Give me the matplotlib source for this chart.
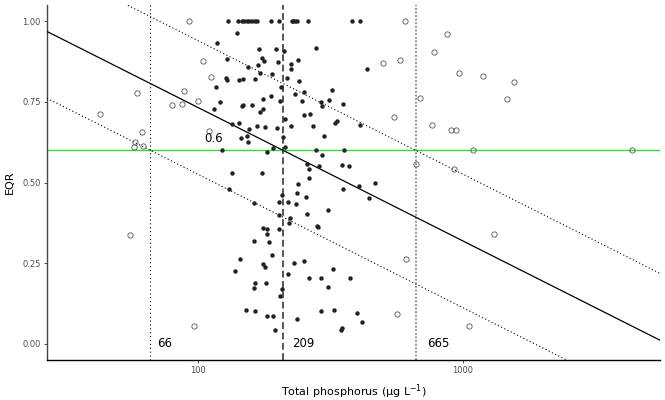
import numpy as np
import matplotlib
matplotlib.use("Agg")
import matplotlib.pyplot as plt

# sites inside the calibration set (filled) - total phosphorus (ug/L) and EQR
tp_filled = [129.8, 141.6, 146.6, 149.6, 153.1, 156.2, 160.4, 164.6, 167.5, 189.2,
             201.8, 225.9, 229.1, 232.5, 236.6, 260.4, 380.8, 409.3,
             140.0, 117.7, 278.4, 169.6, 197.6, 210.8, 128.7, 174.1, 178.0, 238.0,
             224.6, 154.1, 168.5, 200.0, 224.6, 436.1, 127.6, 128.7, 143.2, 148.3,
             164.2, 171.1, 189.9, 205.9, 216.3, 240.1, 116.9, 320.0, 120.8, 114.9,
             146.6, 148.3, 160.4, 171.5, 176.5, 176.5, 188.2, 204.1, 232.5, 251.5,
             246.5, 290.8, 294.9, 313.4, 353.9, 251.5, 264.9, 271.2, 213.2, 224.0,
             198.3, 179.6, 166.6, 156.2, 142.5, 134.8, 329.3, 334.2, 409.3, 145.7,
             153.1, 154.9, 208.9, 299.2, 123.2, 181.8, 212.6, 192.5, 279.9, 355.2,
             294.1, 258.8, 262.6, 287.3, 349.1, 371.9, 262.6, 134.8, 175.0, 238.0,
             467.6, 405.7, 353.0, 131.3, 207.1, 236.0, 255.9, 442.6, 202.9, 217.8,
             233.9, 162.8, 309.8, 258.1, 202.3, 222.0, 221.2, 280.8, 283.3, 176.5,
             182.3, 182.7, 202.9, 163.2, 185.9, 189.9, 144.1, 175.6, 179.1, 137.6,
             219.4, 163.8, 162.8, 180.2, 207.7, 204.1, 151.4, 164.2, 182.3, 191.5,
             195.4, 236.0, 230.5, 251.5, 262.6, 291.5, 291.5, 309.8, 322.8, 375.2,
             327.3, 398.7, 416.5, 350.9, 346.9]
eqr_filled = [1.0, 1.0, 1.0, 1.0, 1.0, 1.0, 1.0, 1.0, 1.0, 1.0,
              1.0, 1.0, 1.0, 1.0, 1.0, 1.0, 1.0, 1.0,
              0.962, 0.932, 0.918, 0.913, 0.915, 0.906, 0.883, 0.887, 0.877, 0.880,
              0.867, 0.859, 0.865, 0.872, 0.852, 0.851, 0.823, 0.817, 0.818, 0.822,
              0.822, 0.838, 0.835, 0.797, 0.824, 0.815, 0.797, 0.786, 0.749, 0.728,
              0.736, 0.740, 0.739, 0.720, 0.727, 0.758, 0.767, 0.754, 0.774, 0.779,
              0.754, 0.749, 0.738, 0.755, 0.744, 0.709, 0.713, 0.674, 0.697, 0.674,
              0.669, 0.672, 0.676, 0.667, 0.683, 0.680, 0.683, 0.691, 0.678, 0.637,
              0.643, 0.625, 0.642, 0.645, 0.602, 0.596, 0.609, 0.607, 0.601, 0.600,
              0.584, 0.557, 0.542, 0.551, 0.553, 0.550, 0.515, 0.528, 0.530, 0.495,
              0.498, 0.490, 0.479, 0.479, 0.460, 0.466, 0.454, 0.453, 0.440, 0.441,
              0.433, 0.437, 0.416, 0.401, 0.398, 0.389, 0.373, 0.364, 0.361, 0.360,
              0.357, 0.341, 0.357, 0.318, 0.317, 0.276, 0.264, 0.249, 0.237, 0.225,
              0.218, 0.190, 0.173, 0.188, 0.171, 0.147, 0.106, 0.102, 0.085, 0.085,
              0.044, 0.076, 0.251, 0.257, 0.203, 0.204, 0.101, 0.175, 0.233, 0.203,
              0.104, 0.097, 0.067, 0.050, 0.044]

# other sites (open circles)
tp_open = [92.5, 104.2, 112.3, 88.3, 58.8, 80.0, 87.0, 100.3, 42.5, 61.6,
           109.8, 57.7, 57.2, 62.0, 55.5, 96.3, 605.4, 874.7, 777.1, 579.6,
           500.0, 968.4, 1196, 1558, 1474, 689.8, 551.6, 767.7, 903.3, 943.4,
           1094, 4335, 666.2, 924.8, 1313, 609.1, 564.7, 1059]
eqr_open = [1.000, 0.877, 0.827, 0.783, 0.776, 0.740, 0.743, 0.751, 0.712, 0.657,
            0.659, 0.627, 0.610, 0.612, 0.337, 0.054, 1.000, 0.961, 0.905, 0.881,
            0.869, 0.839, 0.830, 0.811, 0.759, 0.762, 0.703, 0.677, 0.663, 0.664,
            0.602, 0.602, 0.558, 0.542, 0.341, 0.263, 0.094, 0.054]

# boundary and regression
boundary_eqr = 0.6
tp_lower = 66
tp_boundary = 209
tp_upper = 665
slope = -0.4133          # EQR per decade of TP
band = 0.207             # offset of the dotted lines

y_ticks = [0.0, 0.25, 0.5, 0.75, 1.0]
x_ticks = [100, 1000]


def reg_line(x, shift=0.0):
    return boundary_eqr + shift + slope * (np.log10(x) - np.log10(tp_boundary))


def main():
    fig = plt.figure(figsize=(6.65, 4.0), dpi=100)
    ax = fig.add_axes([0.0707, 0.10, 0.922, 0.8875])
    xlim = (26.9, 5560)
    ax.set_xscale("log")
    ax.set_xlim(xlim)
    ax.set_ylim(-0.05, 1.05)

    xs = np.array(xlim)
    ax.plot(xs, reg_line(xs), color="black", lw=0.9, zorder=3)
    ax.plot(xs, reg_line(xs, band), color="black", lw=0.8, ls=(0, (1, 2.2)), zorder=3)
    ax.plot(xs, reg_line(xs, -band), color="black", lw=0.8, ls=(0, (1, 2.2)), zorder=3)

    ax.axhline(boundary_eqr, color="#33dd33", lw=1.0, zorder=2)
    ax.axvline(tp_lower, color="black", lw=0.8, ls=(0, (1, 2.5)), zorder=2)
    ax.axvline(tp_boundary, color="#555555", lw=1.4, ls=(0, (3.5, 1.8)), zorder=2)
    ax.axvline(tp_upper, color="#888888", lw=1.3, ls=(0, (1, 1)), zorder=2)

    ax.plot(tp_open, eqr_open, "o", ms=3.8, mfc="none", mec="#555555", mew=0.6, zorder=4)
    ax.plot(tp_filled, eqr_filled, "o", ms=3.2, color="#222222", mew=0, zorder=5)

    ax.text(114, 0.636, "0.6", fontsize=8.5, ha="center", va="center")
    for v, off in [(tp_lower, 5), (tp_boundary, 7), (tp_upper, 8)]:
        ax.annotate(str(v), xy=(v, 0), xytext=(off, 0), textcoords="offset points",
                    ha="left", va="center", fontsize=8.5)

    ax.set_xticks(x_ticks)
    ax.set_xticklabels([str(t) for t in x_ticks])
    ax.xaxis.set_minor_locator(matplotlib.ticker.NullLocator())
    ax.set_yticks(y_ticks)
    ax.set_yticklabels(["%.2f" % t for t in y_ticks])
    ax.tick_params(labelsize=6, colors="#333333", length=2.5, width=0.6, pad=2)
    ax.tick_params(axis="both", labelcolor="#4d4d4d")

    for s in ["top", "right"]:
        ax.spines[s].set_visible(False)
    ax.spines["left"].set_color("#444444")
    ax.spines["left"].set_linewidth(1.0)
    ax.spines["bottom"].set_linewidth(1.0)

    ax.set_xlabel("Total phosphorus (\u00b5g L$^{-1}$)", fontsize=8, labelpad=5)
    ax.set_ylabel("EQR", fontsize=8, labelpad=5)

    fig.savefig("out.png", dpi=100)


if __name__ == "__main__":
    main()
